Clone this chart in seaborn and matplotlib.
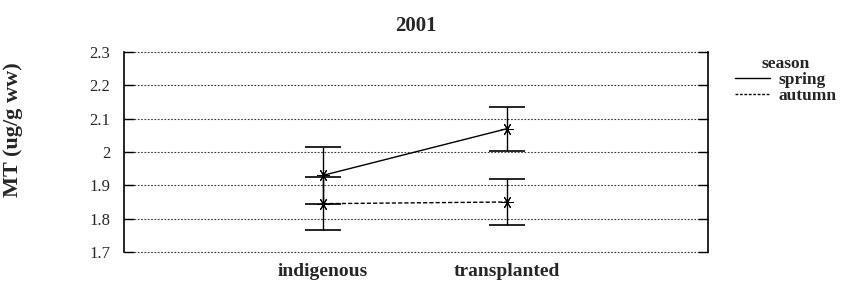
import numpy as np
import pandas as pd
import matplotlib
matplotlib.use("Agg")
import matplotlib.pyplot as plt
from matplotlib.lines import Line2D
import seaborn as sns

# data
sites = ["indigenous", "transplanted"]
seasons = ["spring", "autumn"]
spring_mean = [1.93, 2.07]
spring_err = [0.085, 0.066]
autumn_mean = [1.845, 1.85]
autumn_err = [0.08, 0.068]
y_ticks = [1.7, 1.8, 1.9, 2.0, 2.1, 2.2, 2.3]
y_tick_labels = ["1.7", "1.8", "1.9", "2", "2.1", "2.2", "2.3"]

df = pd.DataFrame({
    "site": sites * 2,
    "season": ["spring"] * 2 + ["autumn"] * 2,
    "mt": spring_mean + autumn_mean,
})

sns.set_style("white")
plt.rcParams["font.family"] = ["Liberation Serif", "DejaVu Serif"]

fig = plt.figure(figsize=(8.43, 2.84), dpi=100)
ax = fig.add_axes([0.1471, 0.1127, 0.6928, 0.7042])

# grid first so the marks sit on top
for yv in y_ticks:
    ax.axhline(yv, color="#333333", lw=0.8, ls=(0, (1.5, 1.5)), zorder=0,
               clip_on=False)

star = (6, 2, 90)
sns.pointplot(data=df, x="site", y="mt", hue="season", order=sites,
              hue_order=seasons, palette=["black", "black"],
              markers=[star, star], linestyles=["-", (0, (3, 1.5))],
              errorbar=None, dodge=False, legend=False, ax=ax,
              markersize=9, linewidth=1.0)

for means, errs in [(spring_mean, spring_err), (autumn_mean, autumn_err)]:
    ax.errorbar([0, 1], means, yerr=errs, fmt="none", ecolor="black",
                elinewidth=1.0, capsize=13, capthick=1.2, zorder=3)

ax.set_xlim(-1.082, 2.092)
ax.set_ylim(1.7, 2.3)
ax.set_yticks(y_ticks)
ax.set_yticklabels(y_tick_labels)
ax.set_xlabel("")
ax.set_ylabel("MT (ug/g ww)", fontsize=16, fontweight="bold")
ax.yaxis.set_label_coords(-0.173, 0.61)
ax.set_title("2001", fontsize=15, fontweight="bold", pad=15)

for lab in ax.get_xticklabels():
    lab.set_fontweight("bold")
    lab.set_fontsize(14)
ax.tick_params(axis="x", length=0, pad=8)
ax.tick_params(axis="y", direction="in", length=7, width=1, labelsize=12,
               pad=10, left=True, right=True, color="black")

for side in ["top", "bottom"]:
    ax.spines[side].set_visible(False)
for side in ["left", "right"]:
    ax.spines[side].set_visible(True)
    ax.spines[side].set_color("black")
    ax.spines[side].set_linewidth(1.2)

handles = [Line2D([], [], color="black", lw=1.0, ls="-"),
           Line2D([], [], color="black", lw=1.0, ls=(0, (2, 1.2)))]
leg = fig.legend(handles, seasons, title="season", loc="upper left",
                 bbox_to_anchor=(0.862, 0.835), frameon=False, borderpad=0,
                 handlelength=2.0, handletextpad=0.5, labelspacing=0.0,
                 prop={"size": 12.5, "weight": "bold"},
                 title_fontproperties={"size": 12.5, "weight": "bold"})

fig.savefig("out.png", dpi=100)
